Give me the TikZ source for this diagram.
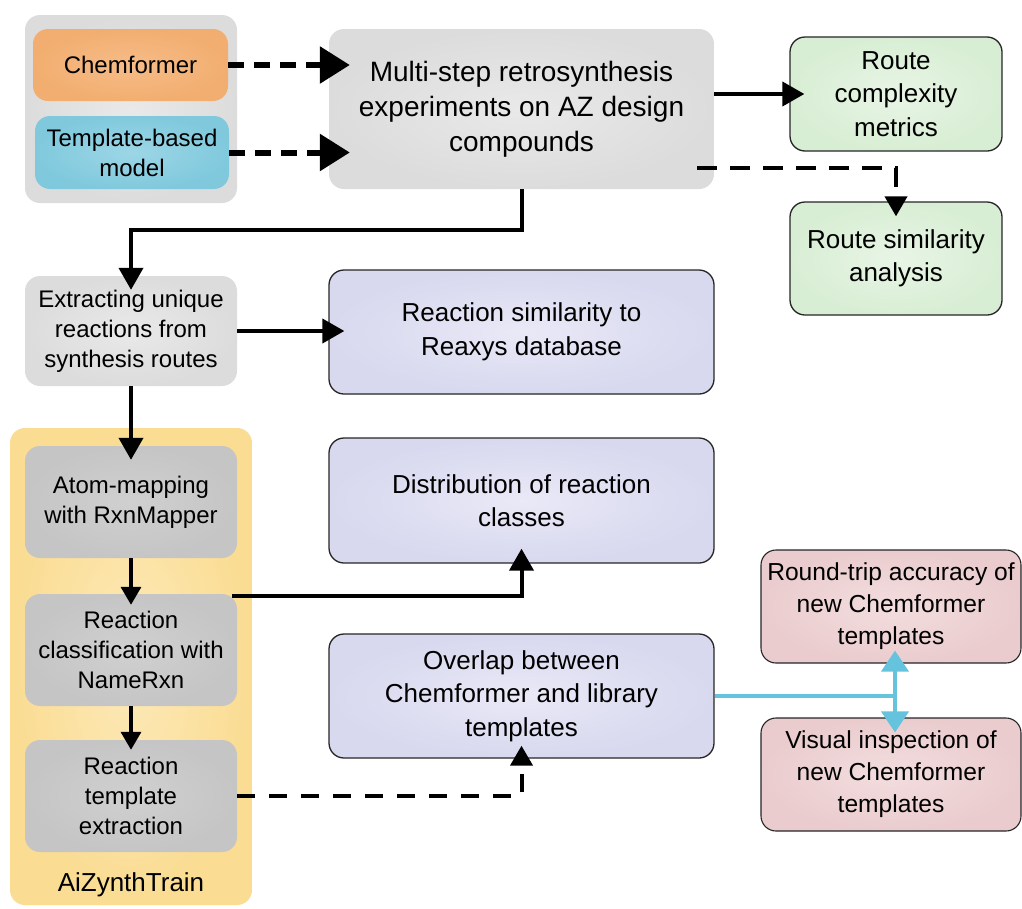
\documentclass[tikz,border=0pt]{standalone}
\usepackage{fontspec}
\setmainfont{Liberation Sans}
\usetikzlibrary{arrows.meta,calc}
\definecolor{grpgray}{HTML}{DEDEDE}
\definecolor{maingray}{HTML}{E4E4E4}
\definecolor{orangeA}{HTML}{F6BC88}
\definecolor{orangeB}{HTML}{F2AE70}
\definecolor{blueA}{HTML}{9CD6E6}
\definecolor{blueB}{HTML}{80C9DD}
\definecolor{greenA}{HTML}{E8F5E6}
\definecolor{greenB}{HTML}{D8EED4}
\definecolor{lavA}{HTML}{E9E9F7}
\definecolor{lavB}{HTML}{D8D8EF}
\definecolor{pinkA}{HTML}{F3DDDE}
\definecolor{pinkB}{HTML}{EACCCE}
\definecolor{yellowA}{HTML}{FDE9B8}
\definecolor{yellowB}{HTML}{FADC92}
\definecolor{dgrayA}{HTML}{D0D0D0}
\definecolor{dgrayB}{HTML}{C5C5C5}
\definecolor{lgrayA}{HTML}{E9E9E9}
\definecolor{lgrayB}{HTML}{DCDCDC}
\definecolor{linkblue}{HTML}{66C3DD}
\begin{document}
\begin{tikzpicture}[x=1pt,y=-1pt,
  box/.style={rounded corners=15pt, align=center, inner sep=0pt},
  lft/.style={box, minimum width=212pt, font=\fontsize{24}{30}\selectfont},
  res/.style={box, draw=black!85, line width=1.3pt, font=\fontsize{26}{33.5}\selectfont},
  grnbox/.style={res, minimum width=212pt, minimum height=113pt, inner color=greenA, outer color=greenB},
  lavbox/.style={res, minimum width=385pt, minimum height=124pt, inner color=lavA, outer color=lavB},
  pnkbox/.style={res, minimum width=260pt, minimum height=113pt, line width=1.1pt, inner color=pinkA, outer color=pinkB, font=\fontsize{24.6}{32}\selectfont},
  dgbox/.style={lft, minimum height=112pt, inner color=dgrayA, outer color=dgrayB},
  blk/.style={line width=4pt, -{Triangle[length=22pt,width=24pt]}},
  sml/.style={line width=3.5pt, -{Triangle[length=18pt,width=20pt]}},
  dsh/.style={line width=4pt, dash pattern=on 18pt off 14pt, -{Triangle[length=20pt,width=22pt]}},
  big/.style={line width=6pt, dash pattern=on 16pt off 10pt, -{Triangle[length=30pt,width=36pt]}},
]
\useasboundingbox (0,0) rectangle (1022,908);
\fill[white] (0,0) rectangle (1022,908);

% group backgrounds
\node[box, minimum width=212pt, minimum height=188pt, inner color=lgrayA, outer color=lgrayB] (grp) at (131,109) {};
\node[box, minimum width=242pt, minimum height=477pt, inner color=yellowA, outer color=yellowB] (ai) at (131,666.5) {};
\node[font=\fontsize{26}{30}\selectfont] (ailab) at (131,885) {AiZynthTrain};

% left boxes
\node[lft, minimum width=195pt, minimum height=72pt, inner color=orangeA, outer color=orangeB] (chem) at (130.5,65) {Chemformer};
\node[lft, minimum width=194pt, minimum height=73pt, inner color=blueA, outer color=blueB] (tmpl) at (132,152.5) {Template-based\\model};
\node[lft, minimum height=110pt, inner color=lgrayA, outer color=lgrayB] (ext) at (131,331) {Extracting unique\\reactions from\\synthesis routes};
\node[dgbox] (atom) at (131,502) {Atom-mapping\\with RxnMapper};
\node[dgbox] (cls) at (131,650) {Reaction\\classification with\\NameRxn};
\node[dgbox] (tex) at (131,796) {Reaction\\template\\extraction};

% main box
\node[box, minimum width=385pt, minimum height=160pt, inner color=lgrayA, outer color=lgrayB, font=\fontsize{28}{35}\selectfont] (main) at (521.5,109) {Multi-step retrosynthesis\\experiments on AZ design\\compounds};

% result boxes
\node[grnbox, minimum height=114pt] (rcm) at (896,94) {Route\\complexity\\metrics};
\node[grnbox] (rsa) at (896,258.5) {Route similarity\\analysis};
\node[lavbox] (rsim) at (521.5,332) {Reaction similarity to\\Reaxys database};
\node[lavbox, minimum height=125pt] (dist) at (521.5,500.5) {Distribution of reaction\\classes};
\node[lavbox] (ovl) at (521.5,696) {Overlap between\\Chemformer and library\\templates};
\node[pnkbox] (rt) at (891,606.5) {Round-trip accuracy of\\new Chemformer\\templates};
\node[pnkbox] (vi) at (891,774.5) {Visual inspection of\\new Chemformer\\templates};

% connectors
\draw[big, shorten >=-21pt] (chem.east) -- (chem.east -| main.west);
\draw[big, shorten >=-21pt] (tmpl.east) -- (tmpl.east -| main.west);
\draw[blk, shorten >=-15pt] (main.east |- rcm.west) -- (rcm.west);
\coordinate (dstart) at ($(main.south east)+(-17,-21)$);
\draw[dsh, dash pattern=on 20pt off 13pt, shorten >=-15pt] (dstart) -| (rsa.north);
\draw[blk, shorten >=-14pt] (main.south) -- ++(0,41) -| (ext.north);
\draw[blk, shorten >=-16pt] (ext.east) -- (ext.east -| rsim.west);
\draw[blk, shorten >=-14pt] (ext.south) -- (atom.north);
\draw[sml, shorten >=-11pt] (atom.south) -- (cls.north);
\draw[sml, shorten >=-10pt] (cls.south) -- (tex.north);
\coordinate (cstart) at ($(cls.north east)+(-5,2)$);
\draw[blk, shorten >=-15pt] (cstart) -| (dist.south);
\draw[dsh, shorten >=-13pt] (tex.east) -| (ovl.south);
\coordinate (j) at (895,696);
\draw[linkblue, line width=4pt] (ovl.east) -- (j);
\draw[linkblue, line width=4pt, {Triangle[length=21pt,width=27pt]}-{Triangle[length=21pt,width=27pt]}, shorten <=-13pt, shorten >=-15pt] (j |- rt.south) -- (j |- vi.north);
\end{tikzpicture}
\end{document}
